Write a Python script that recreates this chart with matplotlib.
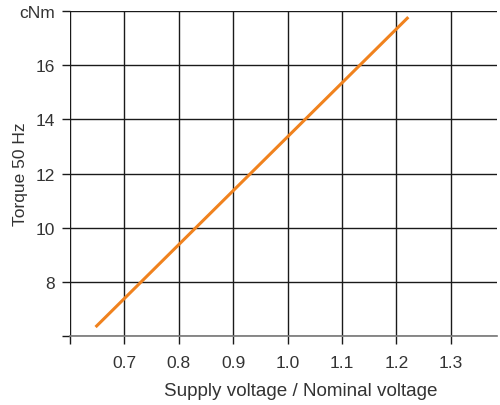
import matplotlib.pyplot as plt
import numpy as np

plt.rcParams['font.family'] = ['Liberation Sans', 'DejaVu Sans']

voltage_ratio = [0.647, 1.222]
torque = [6.33, 17.78]
x_ticks = [0.6, 0.7, 0.8, 0.9, 1.0, 1.1, 1.2, 1.3]
x_labels = ['', '0.7', '0.8', '0.9', '1.0', '1.1', '1.2', '1.3']
y_ticks = [6, 8, 10, 12, 14, 16, 18]
y_labels = ['', '8', '10', '12', '14', '16', 'cNm']

fig = plt.figure(figsize=(5, 4.06), dpi=100)
ax = fig.add_axes([0.14, 0.17, 0.854, 0.800])

ax.plot(voltage_ratio, torque, color='#f0821e', lw=2.2, solid_capstyle='butt', zorder=3)

ax.set_xlim(0.6, 1.385)
ax.set_ylim(6, 18)
ax.set_xticks(x_ticks)
ax.set_xticklabels(x_labels)
ax.set_yticks(y_ticks)
ax.set_yticklabels(y_labels)

ax.grid(True, color='#1a1a1a', lw=1.0)
ax.set_axisbelow(True)
for s in ['top', 'right', 'left']:
    ax.spines[s].set_visible(False)
ax.spines['bottom'].set_color('#777777')
ax.spines['bottom'].set_linewidth(1.2)

ax.tick_params(axis='both', colors='#1a1a1a', labelcolor='#333333', labelsize=12.5,
               length=6, width=1.0)
ax.tick_params(axis='x', pad=8)
ax.tick_params(axis='y', pad=5)

ax.set_xlabel('Supply voltage / Nominal voltage', fontsize=13.6, color='#333333')
ax.set_ylabel('Torque 50 Hz', fontsize=12.5, color='#333333')
ax.xaxis.set_label_coords(0.54, -0.142)
ax.yaxis.set_label_coords(-0.099, 0.5)

fig.savefig('out.png', dpi=100)
